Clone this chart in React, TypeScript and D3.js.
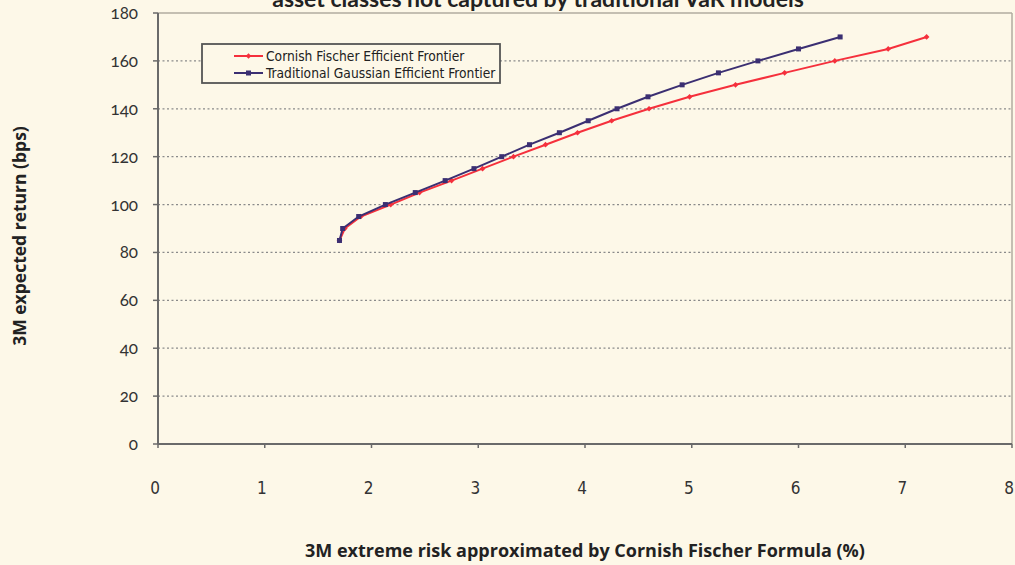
import React from "react";
import * as d3 from "d3";

const cfRisk = [1.70, 1.75, 1.90, 2.18, 2.45, 2.75, 3.04, 3.33, 3.63, 3.93, 4.25, 4.60, 4.98, 5.41, 5.87, 6.34, 6.84, 7.20];
const cfReturn = [85, 90, 95, 100, 105, 110, 115, 120, 125, 130, 135, 140, 145, 150, 155, 160, 165, 170];
const gRisk = [1.70, 1.73, 1.88, 2.13, 2.41, 2.69, 2.96, 3.22, 3.48, 3.76, 4.03, 4.30, 4.59, 4.91, 5.25, 5.62, 6.00, 6.39];
const gReturn = [85, 90, 95, 100, 105, 110, 115, 120, 125, 130, 135, 140, 145, 150, 155, 160, 165, 170];
const xTicks = [0, 1, 2, 3, 4, 5, 6, 7, 8];
const yTicks = [0, 20, 40, 60, 80, 100, 120, 140, 160, 180];
const seriesNames = ["Cornish Fischer Efficient Frontier", "Traditional Gaussian Efficient Frontier"];
const title = "asset classes not captured by traditional VaR models";
const xTitle = "3M extreme risk approximated by Cornish Fischer Formula (%)";
const yTitle = "3M expected return (bps)";

const W = 1015, H = 565;
const L = 158, R = 1012, T = 13, B = 444;

export default function App() {
  const x = d3.scaleLinear().domain([0, 8]).range([L, R]);
  const y = d3.scaleLinear().domain([0, 180]).range([B, T]);
  const line = d3.line<[number, number]>().x(d => x(d[0])).y(d => y(d[1]));
  const cf: [number, number][] = cfRisk.map((v, i) => [v, cfReturn[i]]);
  const g: [number, number][] = gRisk.map((v, i) => [v, gReturn[i]]);
  const red = "#f5303c";
  const blue = "#3b2f72";
  const numFont = "Lato, 'Open Sans', sans-serif";
  const narrow = "'Liberation Sans Narrow', 'DejaVu Sans Condensed', sans-serif";
  return (
    <svg width={W} height={H} style={{ position: "absolute", left: 0, top: 0 }} fontFamily={numFont}>
      <rect x={0} y={0} width={W} height={H} fill="#fdf8e8" />
      <text x={538} y={7} textAnchor="middle" fontWeight="bold" fontSize={23} fill="#222">{title}</text>
      {/* grid */}
      {yTicks.filter(t => t > 0 && t < 180).map(t => (
        <line key={t} x1={L} x2={R} y1={y(t)} y2={y(t)} stroke="#8a8a8a" strokeWidth={1.3} strokeDasharray="2,2.5" />
      ))}
      <line x1={L} x2={R} y1={y(180)} y2={y(180)} stroke="#b0aca0" strokeWidth={1.5} />
      <line x1={R} x2={R} y1={T} y2={B} stroke="#b0aca0" strokeWidth={1.5} />
      {/* axes */}
      <line x1={L} x2={L} y1={T} y2={B} stroke="#6a6a6a" strokeWidth={2} />
      <line x1={L} x2={R} y1={B} y2={B} stroke="#6a6a6a" strokeWidth={2} />
      {yTicks.map(t => (
        <g key={t}>
          <line x1={L - 5} x2={L} y1={y(t)} y2={y(t)} stroke="#6a6a6a" strokeWidth={1.5} />
          <text x={138} y={y(t) + 6} textAnchor="end" fontSize={17} fill="#333" style={{ fontVariantNumeric: "oldstyle-nums" }}>{t}</text>
        </g>
      ))}
      {xTicks.map(t => (
        <g key={t}>
          <line x1={x(t)} x2={x(t)} y1={B} y2={B + 4} stroke="#6a6a6a" strokeWidth={1.5} />
          <text x={x(t) - 3} y={494} textAnchor="middle" fontSize={17} fill="#333" fontFamily={narrow} style={{ fontVariantNumeric: "oldstyle-nums" }}>{t}</text>
        </g>
      ))}
      {/* series */}
      <path d={line(cf) || ""} fill="none" stroke={red} strokeWidth={2} />
      {cf.map((d, i) => (
        <rect key={i} x={x(d[0]) - 2} y={y(d[1]) - 2} width={4} height={4} fill={red} transform={`rotate(45 ${x(d[0])} ${y(d[1])})`} />
      ))}
      <path d={line(g) || ""} fill="none" stroke={blue} strokeWidth={2} />
      {g.map((d, i) => (
        <rect key={i} x={x(d[0]) - 2.5} y={y(d[1]) - 2.5} width={5} height={5} fill={blue} />
      ))}
      {/* legend */}
      <rect x={202} y={44} width={298} height={39} fill="#fdf8e8" stroke="#555" strokeWidth={1.8} />
      <line x1={234} x2={263} y1={56} y2={56} stroke={red} strokeWidth={2} />
      <rect x={246.5} y={54} width={4} height={4} fill={red} transform="rotate(45 248.5 56)" />
      <text x={266} y={60.5} fontSize={13.7} fill="#222" fontFamily={narrow}>{seriesNames[0]}</text>
      <line x1={234} x2={263} y1={73} y2={73} stroke={blue} strokeWidth={2} />
      <rect x={246} y={70.5} width={5} height={5} fill={blue} />
      <text x={266} y={78} fontSize={13.7} fill="#222" fontFamily={narrow}>{seriesNames[1]}</text>
      {/* axis titles */}
      <text x={585} y={557} textAnchor="middle" fontWeight="bold" fontSize={18} fill="#222" fontFamily="'Open Sans', sans-serif">{xTitle}</text>
      <text transform="translate(26,236) rotate(-90)" textAnchor="middle" fontWeight="bold" fontSize={17.5} fill="#222" fontFamily="'Open Sans', sans-serif">{yTitle}</text>
    </svg>
  );
}
